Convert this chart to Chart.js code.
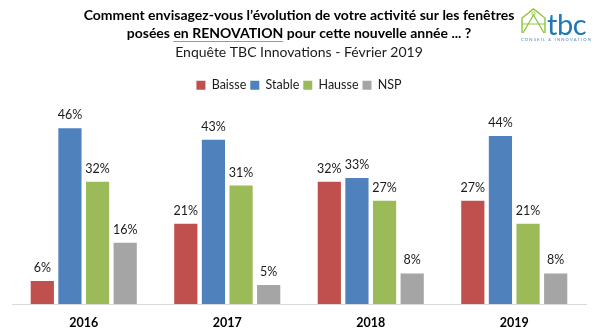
<!DOCTYPE html>
<html>
<head>
<meta charset="utf-8">
<script src="https://cdn.jsdelivr.net/npm/chart.js@4.4.0/dist/chart.umd.min.js"></script>
<style>
body{margin:0;background:#fff;}
#wrap{position:relative;width:600px;height:335px;}
#logo{position:absolute;left:520px;top:4px;}
</style>
</head>
<body>
<div id="wrap">
<canvas id="myChart" width="600" height="335"></canvas>
<!-- tbc logo -->
<svg id="logo" width="76" height="44" viewBox="0 0 76 44">
  <polyline points="2,29 2,14 13.5,5 25,14 25,29" fill="none" stroke="#8cc63e" stroke-width="1.4"/>
  <polyline points="3,29 13.5,11 24,29" fill="none" stroke="#8cc63e" stroke-width="1.3"/>
  <line x1="2" y1="20" x2="25" y2="20" stroke="#8cc63e" stroke-width="1"/>
  <circle cx="13.5" cy="9.5" r="1.6" fill="none" stroke="#8cc63e" stroke-width="1"/>
  <text x="27" y="31" font-family="Lato" font-size="29" fill="#1f79b5" letter-spacing="-0.5">tbc</text>
  <text x="1" y="37" font-family="Lato" font-size="4.2" fill="#4a86b8" textLength="70" lengthAdjust="spacing">CONSEIL &amp; INNOVATION</text>
</svg>
</div>
<script>
// survey results, % of answers per year
var years = ['2016', '2017', '2018', '2019']
var baisse = [6, 21, 32, 27]
var stable = [46, 43, 33, 44]
var hausse = [32, 31, 27, 21]
var nsp = [16, 5, 8, 8]

var titleLines = [
    'Comment envisagez-vous l\u2019\u00e9volution de votre activit\u00e9 sur les fen\u00eatres',
    'pos\u00e9es en RENOVATION pour cette nouvelle ann\u00e9e ... ?'
]
var titleFont = 'bold 14px Lato'

// value above each bar
var barLabels = {
    id: 'barLabels',
    afterDatasetsDraw: function(chart){
        var ctx = chart.ctx
        ctx.save()
        ctx.font = '12.5px Lato'
        ctx.fillStyle = '#1a1a1a'
        ctx.textAlign = 'center'
        ctx.textBaseline = 'middle'
        chart.data.datasets.forEach(function(ds, i){
            chart.getDatasetMeta(i).data.forEach(function(bar, j){
                ctx.fillText(ds.data[j] + '%', bar.x, bar.y - 13)
            })
        })
        ctx.restore()
    }
}

// underline under "en RENOVATION" in the 2nd title line
var underline = {
    id: 'underline',
    afterDraw: function(chart){
        var tb = chart.titleBlock
        var opts = chart.options.plugins.title
        var ctx = chart.ctx
        ctx.save()
        ctx.font = titleFont
        var line = titleLines[1]
        var full = ctx.measureText(line).width
        var cx = (tb.left + tb.right) / 2
        var lh = 18
        var y = tb.top + opts.padding.top + lh * 1.5 + 8
        var x0 = cx - full / 2 + ctx.measureText('pos\u00e9es ').width
        var w = ctx.measureText('en RENOVATION').width
        ctx.strokeStyle = '#9a9a9a'
        ctx.lineWidth = 1
        ctx.beginPath()
        ctx.moveTo(x0, y + 0.5)
        ctx.lineTo(x0 + w, y + 0.5)
        ctx.stroke()
        ctx.restore()
    }
}

var ctx = document.getElementById('myChart').getContext('2d')
var chart = new Chart(ctx, {
    type: 'bar',
    plugins: [barLabels, underline],
    data: {
        labels: years,
        datasets: [
            { label: 'Baisse', data: baisse, backgroundColor: '#c0504d' },
            { label: 'Stable', data: stable, backgroundColor: '#4f81bd' },
            { label: 'Hausse', data: hausse, backgroundColor: '#9bbb59' },
            { label: 'NSP', data: nsp, backgroundColor: '#a5a5a5' }
        ]
    },
    options: {
        responsive: false,
        animation: false,
        categoryPercentage: 0.77,
        barPercentage: 0.84,
        layout: {
            padding: { left: 12, right: 14, top: 0, bottom: -6 }
        },
        scales: {
            x: {
                grid: { display: false, drawTicks: false },
                border: { display: true, color: '#d9d9d9', width: 1 },
                ticks: {
                    color: '#000',
                    padding: 11,
                    font: { family: 'Lato', size: 12.5, weight: 'bold' }
                }
            },
            y: {
                display: false,
                min: 0,
                max: 53
            }
        },
        plugins: {
            title: {
                display: true,
                text: titleLines,
                color: '#000',
                padding: { top: 6, bottom: 1 },
                font: { family: 'Lato', size: 14, weight: 'bold', lineHeight: '18px' }
            },
            subtitle: {
                display: true,
                text: 'Enqu\u00eate TBC Innovations - F\u00e9vrier 2019',
                color: '#1a1a1a',
                padding: { top: 0, bottom: 14 },
                font: { family: 'Lato', size: 14, lineHeight: '18px' }
            },
            legend: {
                display: true,
                labels: {
                    color: '#1a1a1a',
                    boxWidth: 9,
                    boxHeight: 9,
                    padding: 4,
                    font: { family: 'Lato', size: 12.5 }
                }
            },
            tooltip: { enabled: false }
        }
    }
})
</script>
</body>
</html>
